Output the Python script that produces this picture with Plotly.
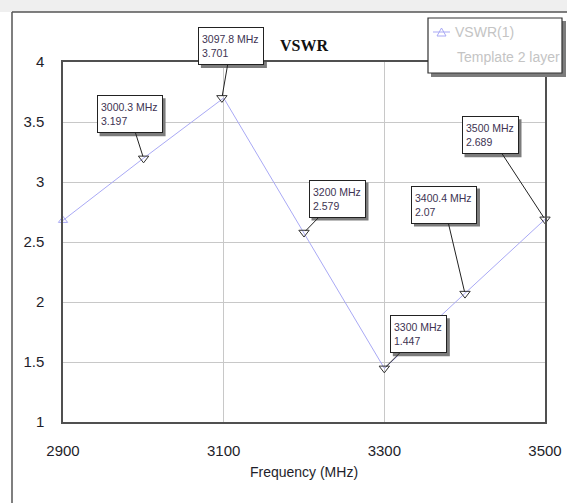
import plotly.graph_objects as go

# ---- data ----
freq = [2900, 3000, 3100, 3200, 3300, 3400, 3500]
vswr = [2.68, 3.197, 3.70, 2.579, 1.447, 2.07, 2.689]

marker_freq = [3000.3, 3097.8, 3200, 3300, 3400.4, 3500]
marker_vswr = [3.197, 3.701, 2.579, 1.447, 2.07, 2.689]
marker_labels = ["3000.3 MHz", "3097.8 MHz", "3200 MHz", "3300 MHz", "3400.4 MHz", "3500 MHz"]
marker_values = ["3.197", "3.701", "2.579", "1.447", "2.07", "2.689"]
# box-centre offsets (pixels) from each marker
marker_ax = [-14, 9, 33, 34, -21, -55]
marker_ay = [-44, -52, -34, -34, -89, -84]
# outer box widths (pixels)
marker_boxw = [66, 66, 57, 57, 66, 57]
BOXH = 38

x_ticks = [2900, 3100, 3300, 3500]
y_ticks = [1, 1.5, 2, 2.5, 3, 3.5, 4]
y_ticktext = ["1", "1.5", "2", "2.5", "3", "3.5", "4"]

series_name = "VSWR(1)"
series_sub = "Template 2 layer"

W, H = 567, 503
L, R, T, B = 63, 545, 62, 422


def px(X):
    return (X - L) / (R - L)


def py(Y):
    return (B - Y) / (B - T)


SANS = "Liberation Sans, Arial, sans-serif"
LINE_BLUE = "#a9a9f5"
SHADOW = "#7c7c7c"

fig = go.Figure()
fig.add_trace(go.Scatter(
    x=freq, y=vswr, mode="lines",
    line=dict(color=LINE_BLUE, width=1),
    showlegend=False, hoverinfo="skip",
))
fig.add_trace(go.Scatter(
    x=freq[:1], y=vswr[:1], mode="markers",
    marker=dict(symbol="triangle-up-open", size=8, color=LINE_BLUE, line=dict(width=1)),
    showlegend=False, hoverinfo="skip", cliponaxis=False,
))
fig.add_trace(go.Scatter(
    x=marker_freq, y=marker_vswr, mode="markers",
    marker=dict(symbol="triangle-down-open", size=9, color="#333333", line=dict(width=1)),
    showlegend=False, hoverinfo="skip", cliponaxis=False,
))

annotations = []
shapes = []
ann_font = dict(family=SANS, size=10.5, color="#3d3352")
PAD, BW = 3, 1
for f, v, lab, val, ax, ay, bw in zip(marker_freq, marker_vswr, marker_labels, marker_values,
                                      marker_ax, marker_ay, marker_boxw):
    # drop shadow of the marker box
    shapes.append(dict(
        type="rect", xref="x", yref="y", xsizemode="pixel", ysizemode="pixel",
        xanchor=f, yanchor=v,
        x0=ax + 3 - bw / 2, x1=ax + 3 + bw / 2,
        y0=-ay - 3 - BOXH / 2, y1=-ay - 3 + BOXH / 2,
        fillcolor=SHADOW, line=dict(width=0), layer="above",
    ))
    annotations.append(dict(
        x=f, y=v, xref="x", yref="y", text=lab + "<br>" + val, showarrow=True,
        ax=ax, ay=ay, axref="pixel", ayref="pixel", arrowhead=0, arrowwidth=1,
        arrowcolor="#222222", standoff=2, align="left", valign="middle", font=ann_font,
        width=bw - 2 * (PAD + BW), height=BOXH - 2 * (PAD + BW),
        bgcolor="white", bordercolor="#222222", borderwidth=BW, borderpad=PAD,
    ))

# legend texts
leg_font = dict(family=SANS, size=14, color="#c4c4c4")
annotations.append(dict(x=px(453), y=py(32), xref="paper", yref="paper", text=series_name,
                        showarrow=False, xanchor="left", yanchor="middle", font=leg_font))
annotations.append(dict(x=px(455), y=py(57), xref="paper", yref="paper", text=series_sub,
                        showarrow=False, xanchor="left", yanchor="middle", font=leg_font))

shapes += [
    # top grey band
    dict(type="rect", xref="paper", yref="paper", x0=px(0), x1=px(W), y0=py(12), y1=py(0),
         fillcolor="#efefef", line=dict(width=0), layer="below"),
    # outer frame lines
    dict(type="line", xref="paper", yref="paper", x0=px(12), x1=px(W + 5), y0=py(12), y1=py(12),
         line=dict(color="#555555", width=1.5)),
    dict(type="line", xref="paper", yref="paper", x0=px(12), x1=px(12), y0=py(12), y1=py(H + 5),
         line=dict(color="#555555", width=1.5)),
    # legend shadow and box
    dict(type="rect", xref="paper", yref="paper", x0=px(431), x1=px(566), y0=py(77), y1=py(21),
         fillcolor=SHADOW, line=dict(width=0), layer="above"),
    dict(type="rect", xref="paper", yref="paper", x0=px(428), x1=px(562), y0=py(73), y1=py(18),
         fillcolor="white", line=dict(color="#333333", width=1.2), layer="above"),
    # legend symbol line
    dict(type="line", xref="paper", yref="paper", x0=px(433), x1=px(450), y0=py(32), y1=py(32),
         line=dict(color=LINE_BLUE, width=1), layer="above"),
    # legend symbol triangle
    dict(type="path", xref="paper", yref="paper",
         path="M {0},{1} L {2},{3} L {4},{5} Z".format(px(437), py(36), px(446), py(36), px(441.5), py(28)),
         line=dict(color=LINE_BLUE, width=1), fillcolor="rgba(0,0,0,0)", layer="above"),
]

fig.update_layout(
    width=W, height=H,
    margin=dict(l=L, r=W - R, t=T, b=H - B, pad=0, autoexpand=False),
    paper_bgcolor="white", plot_bgcolor="white",
    showlegend=False,
    title=dict(text="<b>VSWR</b>", x=304 / W, y=1 - 45 / H, xanchor="center", yanchor="middle",
               font=dict(family="Liberation Serif, Times New Roman, serif", size=16, color="#111111")),
    xaxis=dict(range=[2900, 3500], tickvals=x_ticks, ticktext=[str(t) for t in x_ticks],
               automargin=False,
               showgrid=True, gridcolor="#c8c8c8", gridwidth=1, zeroline=False,
               showline=True, mirror=True, linecolor="#505050", linewidth=1.5, ticks="",
               ticklabelstandoff=14,
               tickfont=dict(family=SANS, size=15, color="#1e1e2a"),
               title=dict(text="Frequency (MHz)", standoff=9,
                          font=dict(family=SANS, size=14, color="#1e1e2a"))),
    yaxis=dict(range=[1, 4], tickvals=y_ticks, ticktext=y_ticktext,
               automargin=False,
               showgrid=True, gridcolor="#c8c8c8", gridwidth=1, zeroline=False,
               showline=True, mirror=True, linecolor="#505050", linewidth=1.5, ticks="",
               ticklabelstandoff=14,
               tickfont=dict(family=SANS, size=15, color="#1e1e2a")),
    annotations=annotations,
    shapes=shapes,
)

fig.write_html("out.html")
